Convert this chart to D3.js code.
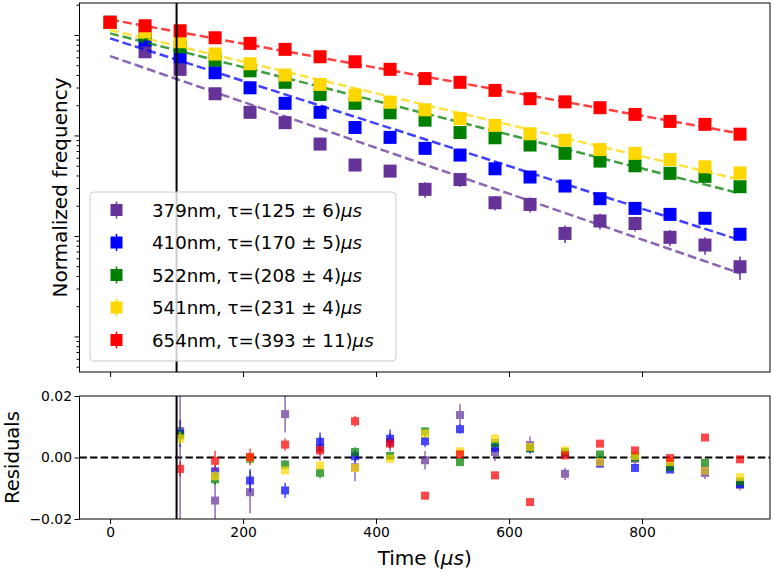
<!DOCTYPE html>
<html lang="en">
<head>
<meta charset="utf-8">
<title>Normalized frequency decay</title>
<script src="https://d3js.org/d3.v7.min.js"></script>
<style>
  body { margin: 0; background: #fff; }
  svg text { font-family: "DejaVu Sans", sans-serif; fill: #000; }
</style>
</head>
<body>
<svg id="chart" width="774" height="572"></svg>
<script>

// time of each measurement (us)
var times = [0, 52.6, 105.3, 157.9, 210.5, 263.2, 315.8, 368.4, 421.1, 473.7,
             526.3, 578.9, 631.6, 684.2, 736.8, 789.5, 842.1, 894.7, 947.4];
var cutTime = 100;       // fit starts here (black line)
var fitFrom = 2;         // first point used for residuals

var names  = ["379nm", "410nm", "522nm", "541nm", "654nm"];
var taus   = ["125 \u00b1 6", "170 \u00b1 5", "208 \u00b1 4", "231 \u00b1 4", "393 \u00b1 11"];
var colors = ["#663399", "#0000ff", "#008000", "#ffd700", "#ff0000"];

// normalized frequency
var freqPurple = [1.335, 0.681, 0.455, 0.260, 0.170, 0.134, 0.0821, 0.0508, 0.0442, 0.0291,
                  0.0364, 0.0214, 0.0206, 0.0106, 0.0141, 0.0133, 0.00969, 0.00812, 0.00494];
var freqBlue   = [1.335, 0.890, 0.607, 0.421, 0.298, 0.209, 0.170, 0.120, 0.0957, 0.0744,
                  0.0638, 0.0466, 0.0386, 0.0314, 0.0235, 0.0188, 0.0164, 0.0150, 0.0104];
var freqGreen  = [1.335, 1.021, 0.763, 0.563, 0.440, 0.338, 0.256, 0.209, 0.168, 0.142,
                  0.107, 0.0949, 0.0803, 0.0664, 0.0556, 0.0499, 0.0420, 0.0392, 0.0309];
var freqYellow = [1.335, 1.076, 0.856, 0.646, 0.517, 0.399, 0.322, 0.252, 0.214, 0.180,
                  0.147, 0.126, 0.104, 0.0896, 0.0724, 0.0664, 0.0576, 0.0488, 0.0423];
var freqRed    = [1.335, 1.235, 1.101, 0.938, 0.825, 0.719, 0.607, 0.541, 0.455, 0.368,
                  0.338, 0.281, 0.232, 0.216, 0.189, 0.162, 0.138, 0.129, 0.103];
var errPurple  = [0.02, 0.01, 0.007, 0.005, 0.004, 0.004, 0.003, 0.003, 0.003, 0.0051,
                  0.0055, 0.0035, 0.0035, 0.0021, 0.0025, 0.0022, 0.0018, 0.0016, 0.0013];

// fitted exponential, value at t=0 and at the last point
var fitStart = [0.6166, 0.925, 1.037, 1.119, 1.423];
var fitEnd   = [0.00425, 0.0091, 0.0265, 0.0364, 0.1045];

// residuals (points 2..18)
var resPurple = [0.0086, -0.014, -0.0113, 0.0141, 0.003, -0.0032, 0.005, -0.0009, 0.0138, 0.0018,
                 0.004, -0.0053, -0.001, -0.0004, -0.003, -0.005, -0.0089];
var resBlue   = [0.0078, -0.0045, -0.0075, -0.0107, 0.0051, 0.0004, 0.0061, 0.0053, 0.0092, 0.0032,
                 0.003, 0.0015, -0.002, -0.0034, -0.0039, -0.004, -0.0086];
var resGreen  = [0.0072, -0.0071, -0.0004, -0.0023, -0.005, 0.0018, 0.0005, 0.0085, -0.0015, 0.0047,
                 0.003, 0.0018, 0.001, 0.0, -0.0031, -0.0017, -0.0078];
var resYellow = [0.0062, -0.006, 0.0, -0.0042, -0.0026, -0.0034, -0.0004, 0.0078, 0.002, 0.0062,
                 0.0034, 0.0023, -0.0015, 0.0005, -0.0015, -0.0042, -0.0064];
var resRed    = [-0.0037, -0.0011, 0.0002, 0.0042, 0.0023, 0.0118, 0.0045, -0.0124, 0.001, -0.0058,
                 -0.0145, 0.0007, 0.0045, 0.0023, -0.0002, 0.0065, -0.0006];
var rerrPurple = [0.03, 0.0062, 0.0068, 0.006, 0.004, 0.0045, 0.003, 0.003, 0.0035, 0.003,
                  0.0028, 0.002, 0.002, 0.002, 0.0015, 0.002, 0.0018];
var rerrBlue   = [0.0044, 0.002, 0.0038, 0.0025, 0.003, 0.002, 0.003, 0.002, 0.0015, 0.0015,
                  0.0015, 0.0012, 0.0012, 0.0012, 0.001, 0.001, 0.001];
var rerrGreen  = [0.003, 0.0018, 0.0015, 0.0015, 0.0018, 0.0015, 0.0012, 0.0012, 0.0012, 0.001,
                  0.001, 0.001, 0.001, 0.001, 0.001, 0.001, 0.001];
var rerrYellow = [0.002, 0.0015, 0.0012, 0.0012, 0.0012, 0.0012, 0.001, 0.001, 0.001, 0.001,
                  0.001, 0.001, 0.001, 0.001, 0.001, 0.001, 0.001];
var rerrRed    = [0.0025, 0.0033, 0.0027, 0.002, 0.0015, 0.0018, 0.0015, 0.0012, 0.0012, 0.001,
                  0.001, 0.001, 0.001, 0.001, 0.001, 0.001, 0.001];

var xTicks   = [0, 200, 400, 600, 800];
var resTicks = [-0.02, 0, 0.02];

var freqs = [freqPurple, freqBlue, freqGreen, freqYellow, freqRed];
var errs  = [errPurple, null, null, null, null];
var resids = [resPurple, resBlue, resGreen, resYellow, resRed];
var rerrs  = [rerrPurple, rerrBlue, rerrGreen, rerrYellow, rerrRed];

var series = names.map(function(n, i) {
  return { name: n, tau: taus[i], color: colors[i], freq: freqs[i], err: errs[i],
           res: resids[i], rerr: rerrs[i], f0: fitStart[i], f1: fitEnd[i] };
});

// layout
var left = 79.5, right = 770;
var topY0 = 3, topY1 = 372;
var botY0 = 396, botY1 = 519;

var svg = d3.select("#chart");

var x = d3.scaleLinear().domain([-46, 992.5]).range([left, right]);
var yTop = d3.scaleLog().domain([4.43e-4, 2.08]).range([topY1, topY0]);
var yRes = d3.scaleLinear().domain([-0.02, 0.02]).range([botY1, botY0]);

var defs = svg.append("defs");
defs.append("clipPath").attr("id", "clipTop").append("rect")
  .attr("x", left).attr("y", topY0).attr("width", right - left).attr("height", topY1 - topY0);
defs.append("clipPath").attr("id", "clipBot").append("rect")
  .attr("x", left).attr("y", botY0).attr("width", right - left).attr("height", botY1 - botY0);

// ---------- top panel ----------
var topG = svg.append("g").attr("clip-path", "url(#clipTop)");

series.forEach(function(s) {
  var g = topG.append("g");
  var pts = s.freq.map(function(v, i) { return { t: times[i], v: v, e: s.err ? s.err[i] : 0 }; });

  g.selectAll("line.eb").data(pts.filter(function(d) { return d.e > 0; }))
    .enter().append("line")
    .attr("class", "eb")
    .attr("x1", function(d) { return x(d.t); })
    .attr("x2", function(d) { return x(d.t); })
    .attr("y1", function(d) { return yTop(d.v + d.e); })
    .attr("y2", function(d) { return yTop(Math.max(d.v - d.e, 1e-5)); })
    .attr("stroke", s.color).attr("stroke-width", 1.5);

  g.selectAll("rect").data(pts).enter().append("rect")
    .attr("x", function(d) { return x(d.t) - 6.5; })
    .attr("y", function(d) { return yTop(d.v) - 6.5; })
    .attr("width", 13).attr("height", 13)
    .attr("fill", s.color);

  var fit = [{ t: 0, v: s.f0 }, { t: times[times.length - 1], v: s.f1 }];
  g.append("path")
    .attr("d", d3.line().x(function(d) { return x(d.t); }).y(function(d) { return yTop(d.v); })(fit))
    .attr("fill", "none").attr("stroke", s.color).attr("stroke-opacity", 0.75)
    .attr("stroke-width", 2.5).attr("stroke-dasharray", "9,4");
});

topG.append("line")
  .attr("x1", x(cutTime)).attr("x2", x(cutTime))
  .attr("y1", topY0).attr("y2", topY1)
  .attr("stroke", "#000").attr("stroke-width", 2);

// log ticks on the left
var majors = [], minors = [];
for (var n = -4; n <= 0; n++) {
  for (var k = 1; k <= 9; k++) {
    var v = k * Math.pow(10, n);
    if (v < yTop.domain()[0] || v > yTop.domain()[1]) continue;
    if (k === 1) majors.push(v); else minors.push(v);
  }
}
svg.append("g").attr("transform", "translate(" + left + ",0)")
  .call(d3.axisLeft(yTop).tickValues(majors).tickFormat("").tickSize(5).tickSizeOuter(0))
  .call(function(g) { g.select(".domain").remove(); });
svg.append("g").attr("transform", "translate(" + left + ",0)")
  .call(d3.axisLeft(yTop).tickValues(minors).tickFormat("").tickSize(3).tickSizeOuter(0))
  .call(function(g) { g.select(".domain").remove(); });

svg.append("g").attr("transform", "translate(0," + topY1 + ")")
  .call(d3.axisBottom(x).tickValues(xTicks).tickFormat("").tickSize(5).tickSizeOuter(0))
  .call(function(g) { g.select(".domain").remove(); });

svg.append("rect")
  .attr("x", left).attr("y", topY0).attr("width", right - left).attr("height", topY1 - topY0)
  .attr("fill", "none").attr("stroke", "#000").attr("stroke-width", 1);

svg.append("text")
  .attr("transform", "translate(67," + ((topY0 + topY1) / 2) + ") rotate(-90)")
  .attr("text-anchor", "middle").style("font-size", "20px")
  .text("Normalized frequency");

// legend
var lg = svg.append("g").attr("transform", "translate(90,192)");
lg.append("rect")
  .attr("width", 306).attr("height", 169).attr("rx", 4)
  .attr("fill", "#fff").attr("fill-opacity", 0.8)
  .attr("stroke", "#cccccc").attr("stroke-width", 1);

series.forEach(function(s, i) {
  var cy = 18 + i * 32.5;
  var item = lg.append("g").attr("transform", "translate(0," + cy + ")");
  item.append("line").attr("x1", 26.5).attr("x2", 26.5).attr("y1", -8.5).attr("y2", 8.5)
    .attr("stroke", s.color).attr("stroke-width", 1.5);
  item.append("rect").attr("x", 20.5).attr("y", -6).attr("width", 12).attr("height", 12)
    .attr("fill", s.color);
  var t = item.append("text").attr("x", 62).attr("y", 6.5).style("font-size", "18.2px");
  t.append("tspan").text(s.name + ", \u03c4=(" + s.tau + ")");
  t.append("tspan").style("font-style", "italic").text("\u03bcs");
});

// ---------- residual panel ----------
var botG = svg.append("g").attr("clip-path", "url(#clipBot)");

botG.append("line")
  .attr("x1", left).attr("x2", right)
  .attr("y1", yRes(0)).attr("y2", yRes(0))
  .attr("stroke", "#000").attr("stroke-width", 2).attr("stroke-dasharray", "7.4,3.2");

series.forEach(function(s) {
  var g = botG.append("g").attr("opacity", 0.72);
  var pts = s.res.map(function(r, i) { return { t: times[i + fitFrom], r: r, e: s.rerr[i] }; });

  g.selectAll("line").data(pts).enter().append("line")
    .attr("x1", function(d) { return x(d.t); })
    .attr("x2", function(d) { return x(d.t); })
    .attr("y1", function(d) { return yRes(d.r + d.e); })
    .attr("y2", function(d) { return yRes(d.r - d.e); })
    .attr("stroke", s.color).attr("stroke-width", 1.5);

  g.selectAll("rect").data(pts).enter().append("rect")
    .attr("x", function(d) { return x(d.t) - 4; })
    .attr("y", function(d) { return yRes(d.r) - 4; })
    .attr("width", 8).attr("height", 8)
    .attr("fill", s.color);
});

botG.append("line")
  .attr("x1", x(cutTime)).attr("x2", x(cutTime))
  .attr("y1", botY0).attr("y2", botY1)
  .attr("stroke", "#000").attr("stroke-width", 2);

var resAxis = svg.append("g").attr("transform", "translate(" + left + ",0)")
  .call(d3.axisLeft(yRes).tickValues(resTicks).tickFormat(d3.format(".2f")).tickSize(5).tickSizeOuter(0))
  .call(function(g) { g.select(".domain").remove(); });
resAxis.selectAll("text").style("font-size", "13.9px").attr("x", -7.5);

var xAxis = svg.append("g").attr("transform", "translate(0," + botY1 + ")")
  .call(d3.axisBottom(x).tickValues(xTicks).tickSize(5).tickSizeOuter(0))
  .call(function(g) { g.select(".domain").remove(); });
xAxis.selectAll("text").style("font-size", "13.9px").attr("y", 8);

svg.append("rect")
  .attr("x", left).attr("y", botY0).attr("width", right - left).attr("height", botY1 - botY0)
  .attr("fill", "none").attr("stroke", "#000").attr("stroke-width", 1);

svg.append("text")
  .attr("transform", "translate(18.5," + ((botY0 + botY1) / 2) + ") rotate(-90)")
  .attr("text-anchor", "middle").style("font-size", "19.6px")
  .text("Residuals");

var xl = svg.append("text")
  .attr("x", (left + right) / 2).attr("y", 565)
  .attr("text-anchor", "middle").style("font-size", "20px");
xl.append("tspan").text("Time (");
xl.append("tspan").style("font-style", "italic").text("\u03bcs");
xl.append("tspan").text(")");

</script>
</body>
</html>
